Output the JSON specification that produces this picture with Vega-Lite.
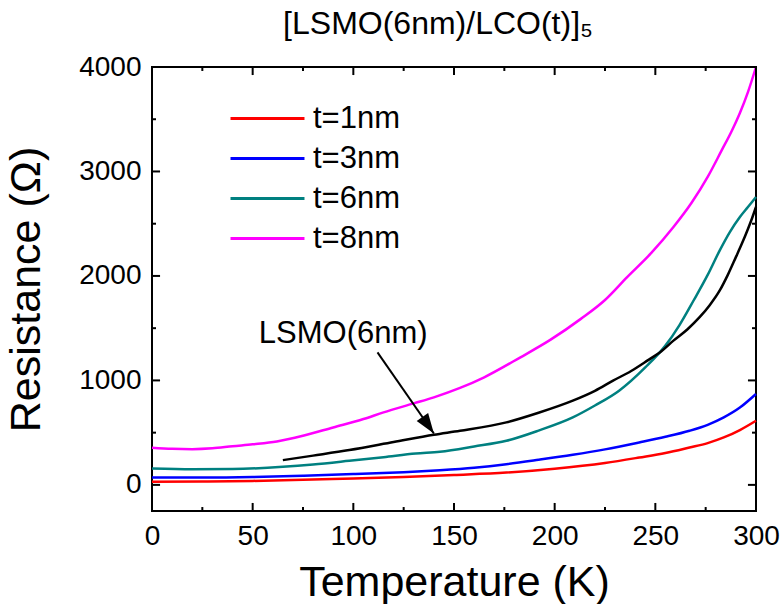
{
  "$schema": "https://vega.github.io/schema/vega-lite/v6.json",
  "width": 604,
  "height": 444,
  "autosize": {"type": "none"},
  "padding": {"left": 152, "top": 67, "right": 26, "bottom": 93},
  "background": "white",
  "config": {
    "font": "Liberation Sans",
    "view": {"stroke": "black", "strokeWidth": 2},
    "axis": {
      "grid": false,
      "domain": false,
      "labelFont": "Liberation Sans",
      "labelFontSize": 28,
      "labelColor": "black",
      "titleFont": "Liberation Sans",
      "titleFontSize": 43,
      "titleFontWeight": "normal",
      "titleColor": "black"
    }
  },
  "title": {
    "text": "[LSMO(6nm)/LCO(t)]₅",
    "font": "Liberation Sans",
    "fontSize": 32,
    "fontWeight": "normal",
    "color": "black",
    "offset": 12,
    "dx": -16
  },
  "datasets": {
    "curves": [
      {"series": "t=1nm", "T": 0, "R": 30}, {"series": "t=1nm", "T": 25, "R": 33}, {"series": "t=1nm", "T": 50, "R": 38}, {"series": "t=1nm", "T": 75, "R": 48}, {"series": "t=1nm", "T": 100, "R": 62}, {"series": "t=1nm", "T": 125, "R": 76}, {"series": "t=1nm", "T": 150, "R": 95}, {"series": "t=1nm", "T": 176, "R": 118}, {"series": "t=1nm", "T": 200, "R": 155}, {"series": "t=1nm", "T": 225, "R": 210}, {"series": "t=1nm", "T": 242, "R": 262}, {"series": "t=1nm", "T": 255, "R": 305}, {"series": "t=1nm", "T": 267, "R": 358}, {"series": "t=1nm", "T": 276, "R": 400}, {"series": "t=1nm", "T": 284, "R": 454}, {"series": "t=1nm", "T": 292, "R": 525}, {"series": "t=1nm", "T": 300, "R": 614},
      {"series": "t=3nm", "T": 0, "R": 70}, {"series": "t=3nm", "T": 25, "R": 70}, {"series": "t=3nm", "T": 50, "R": 75}, {"series": "t=3nm", "T": 75, "R": 88}, {"series": "t=3nm", "T": 100, "R": 103}, {"series": "t=3nm", "T": 125, "R": 122}, {"series": "t=3nm", "T": 143, "R": 141}, {"series": "t=3nm", "T": 160, "R": 165}, {"series": "t=3nm", "T": 176, "R": 198}, {"series": "t=3nm", "T": 192, "R": 240}, {"series": "t=3nm", "T": 209, "R": 288}, {"series": "t=3nm", "T": 225, "R": 340}, {"series": "t=3nm", "T": 242, "R": 406}, {"series": "t=3nm", "T": 255, "R": 460}, {"series": "t=3nm", "T": 267, "R": 518}, {"series": "t=3nm", "T": 276, "R": 575}, {"series": "t=3nm", "T": 284, "R": 646}, {"series": "t=3nm", "T": 292, "R": 740}, {"series": "t=3nm", "T": 300, "R": 870},
      {"series": "t=6nm", "T": 0, "R": 157}, {"series": "t=6nm", "T": 20, "R": 150}, {"series": "t=6nm", "T": 40, "R": 152}, {"series": "t=6nm", "T": 65, "R": 173}, {"series": "t=6nm", "T": 80, "R": 195}, {"series": "t=6nm", "T": 98, "R": 230}, {"series": "t=6nm", "T": 115, "R": 265}, {"series": "t=6nm", "T": 131, "R": 300}, {"series": "t=6nm", "T": 143, "R": 318}, {"series": "t=6nm", "T": 160, "R": 368}, {"series": "t=6nm", "T": 176, "R": 422}, {"series": "t=6nm", "T": 192, "R": 520}, {"series": "t=6nm", "T": 209, "R": 646}, {"series": "t=6nm", "T": 220, "R": 760}, {"series": "t=6nm", "T": 232, "R": 902}, {"series": "t=6nm", "T": 245, "R": 1125}, {"series": "t=6nm", "T": 255, "R": 1333}, {"series": "t=6nm", "T": 262, "R": 1530}, {"series": "t=6nm", "T": 269, "R": 1765}, {"series": "t=6nm", "T": 276, "R": 2010}, {"series": "t=6nm", "T": 282, "R": 2245}, {"series": "t=6nm", "T": 287, "R": 2420}, {"series": "t=6nm", "T": 292, "R": 2564}, {"series": "t=6nm", "T": 296, "R": 2660}, {"series": "t=6nm", "T": 300, "R": 2756},
      {"series": "t=8nm", "T": 0, "R": 355}, {"series": "t=8nm", "T": 10, "R": 345}, {"series": "t=8nm", "T": 20, "R": 342}, {"series": "t=8nm", "T": 30, "R": 350}, {"series": "t=8nm", "T": 40, "R": 370}, {"series": "t=8nm", "T": 50, "R": 388}, {"series": "t=8nm", "T": 62, "R": 415}, {"series": "t=8nm", "T": 75, "R": 470}, {"series": "t=8nm", "T": 90, "R": 550}, {"series": "t=8nm", "T": 105, "R": 630}, {"series": "t=8nm", "T": 115, "R": 694}, {"series": "t=8nm", "T": 130, "R": 780}, {"series": "t=8nm", "T": 140, "R": 838}, {"series": "t=8nm", "T": 153, "R": 928}, {"series": "t=8nm", "T": 165, "R": 1030}, {"series": "t=8nm", "T": 183, "R": 1221}, {"series": "t=8nm", "T": 198, "R": 1390}, {"series": "t=8nm", "T": 213, "R": 1589}, {"series": "t=8nm", "T": 225, "R": 1770}, {"series": "t=8nm", "T": 236, "R": 1989}, {"series": "t=8nm", "T": 248, "R": 2220}, {"series": "t=8nm", "T": 259, "R": 2468}, {"series": "t=8nm", "T": 268, "R": 2700}, {"series": "t=8nm", "T": 276, "R": 2948}, {"series": "t=8nm", "T": 283, "R": 3204}, {"series": "t=8nm", "T": 288, "R": 3390}, {"series": "t=8nm", "T": 292, "R": 3560}, {"series": "t=8nm", "T": 296, "R": 3760}, {"series": "t=8nm", "T": 300, "R": 4000},
      {"series": "LSMO(6nm)", "T": 65, "R": 237}, {"series": "LSMO(6nm)", "T": 80, "R": 280}, {"series": "LSMO(6nm)", "T": 98, "R": 333}, {"series": "LSMO(6nm)", "T": 120, "R": 410}, {"series": "LSMO(6nm)", "T": 140, "R": 480}, {"series": "LSMO(6nm)", "T": 153, "R": 518}, {"series": "LSMO(6nm)", "T": 176, "R": 598}, {"series": "LSMO(6nm)", "T": 192, "R": 690}, {"series": "LSMO(6nm)", "T": 209, "R": 806}, {"series": "LSMO(6nm)", "T": 220, "R": 900}, {"series": "LSMO(6nm)", "T": 229, "R": 998}, {"series": "LSMO(6nm)", "T": 238, "R": 1090}, {"series": "LSMO(6nm)", "T": 246, "R": 1189}, {"series": "LSMO(6nm)", "T": 253, "R": 1280}, {"series": "LSMO(6nm)", "T": 259, "R": 1381}, {"series": "LSMO(6nm)", "T": 266, "R": 1490}, {"series": "LSMO(6nm)", "T": 272, "R": 1605}, {"series": "LSMO(6nm)", "T": 277, "R": 1720}, {"series": "LSMO(6nm)", "T": 282, "R": 1861}, {"series": "LSMO(6nm)", "T": 286, "R": 2010}, {"series": "LSMO(6nm)", "T": 290, "R": 2180}, {"series": "LSMO(6nm)", "T": 293, "R": 2310}, {"series": "LSMO(6nm)", "T": 296, "R": 2450}, {"series": "LSMO(6nm)", "T": 298, "R": 2550}, {"series": "LSMO(6nm)", "T": 300, "R": 2660}
    ],
    "arrow": [
      {"T": 112, "R": 1269, "part": "tail"},
      {"T": 140, "R": 492, "part": "tip"}
    ],
    "label": [
      {"T": 95, "R": 1448, "text": "LSMO(6nm)"}
    ],
    "xticks": [
      {"T": 0, "kind": "major"}, {"T": 25, "kind": "minor"}, {"T": 50, "kind": "major"}, {"T": 75, "kind": "minor"}, {"T": 100, "kind": "major"}, {"T": 125, "kind": "minor"}, {"T": 150, "kind": "major"}, {"T": 175, "kind": "minor"}, {"T": 200, "kind": "major"}, {"T": 225, "kind": "minor"}, {"T": 250, "kind": "major"}, {"T": 275, "kind": "minor"}, {"T": 300, "kind": "major"}
    ],
    "yticks": [
      {"R": 0, "kind": "major"}, {"R": 500, "kind": "minor"}, {"R": 1000, "kind": "major"}, {"R": 1500, "kind": "minor"}, {"R": 2000, "kind": "major"}, {"R": 2500, "kind": "minor"}, {"R": 3000, "kind": "major"}, {"R": 3500, "kind": "minor"}, {"R": 4000, "kind": "major"}
    ]
  },
  "layer": [
    {
      "data": {"name": "curves"},
      "transform": [{"filter": "datum.series !== 'LSMO(6nm)'"}],
      "mark": {"type": "line", "strokeWidth": 2.5, "interpolate": "monotone"},
      "encoding": {
        "x": {
          "field": "T", "type": "quantitative",
          "scale": {"domain": [0, 300], "nice": false, "zero": false},
          "axis": {
            "orient": "bottom",
            "ticks": false,
            "tickSize": 0,
            "values": [0, 50, 100, 150, 200, 250, 300],
            "title": "Temperature (K)",
            "titlePadding": 11,
            "labelPadding": 11,
            "labelFlush": false
          }
        },
        "y": {
          "field": "R", "type": "quantitative",
          "scale": {"domain": [-250, 4000], "nice": false, "zero": false},
          "axis": {
            "orient": "left",
            "ticks": false,
            "tickSize": 0,
            "values": [0, 1000, 2000, 3000, 4000],
            "title": "Resistance (Ω)",
            "titlePadding": 30,
            "format": "d",
            "labelPadding": 11,
            "labelFlush": false
          }
        },
        "color": {
          "field": "series", "type": "nominal",
          "scale": {
            "domain": ["t=1nm", "t=3nm", "t=6nm", "t=8nm"],
            "range": ["#ff0000", "#0000ff", "#008080", "#ff00ff"]
          },
          "legend": {
            "title": null,
            "orient": "none",
            "legendX": 100,
            "legendY": 36,
            "symbolType": "M-4,0H4",
            "symbolSize": 342,
            "symbolStrokeWidth": 3,
            "labelFont": "Liberation Sans",
            "labelFontSize": 31,
            "labelColor": "black",
            "labelOffset": 30,
            "rowPadding": 8,
            "padding": 0
          }
        }
      }
    },
    {
      "data": {"name": "curves"},
      "transform": [{"filter": "datum.series === 'LSMO(6nm)'"}],
      "mark": {"type": "line", "strokeWidth": 2.5, "color": "black", "interpolate": "monotone"},
      "encoding": {
        "x": {"field": "T", "type": "quantitative", "axis": null},
        "y": {"field": "R", "type": "quantitative", "axis": null}
      }
    },
    {
      "data": {"name": "arrow"},
      "mark": {"type": "line", "strokeWidth": 2, "color": "black"},
      "encoding": {
        "x": {"field": "T", "type": "quantitative", "axis": null},
        "y": {"field": "R", "type": "quantitative", "axis": null}
      }
    },
    {
      "data": {"name": "arrow"},
      "transform": [{"filter": "datum.part === 'tip'"}],
      "mark": {"type": "point", "shape": "M0,0L-0.35,-1L0.35,-1Z", "filled": true, "color": "black", "opacity": 1, "size": 1600, "angle": -35},
      "encoding": {
        "x": {"field": "T", "type": "quantitative", "axis": null},
        "y": {"field": "R", "type": "quantitative", "axis": null}
      }
    },
    {
      "data": {"name": "label"},
      "mark": {"type": "text", "font": "Liberation Sans", "fontSize": 31, "color": "black", "baseline": "middle", "align": "center"},
      "encoding": {
        "x": {"field": "T", "type": "quantitative", "axis": null},
        "y": {"field": "R", "type": "quantitative", "axis": null},
        "text": {"field": "text"}
      }
    },
    {
      "data": {"name": "xticks"},
      "transform": [{"filter": "datum.kind === 'major'"}],
      "mark": {"type": "rule", "color": "black", "strokeWidth": 2},
      "encoding": {
        "x": {"field": "T", "type": "quantitative", "axis": null},
        "y": {"datum": -250, "type": "quantitative", "axis": null},
        "y2": {"datum": -173}
      }
    },
    {
      "data": {"name": "xticks"},
      "transform": [{"filter": "datum.kind === 'minor'"}],
      "mark": {"type": "rule", "color": "black", "strokeWidth": 2},
      "encoding": {
        "x": {"field": "T", "type": "quantitative", "axis": null},
        "y": {"datum": -250, "type": "quantitative", "axis": null},
        "y2": {"datum": -212}
      }
    },
    {
      "data": {"name": "xticks"},
      "transform": [{"filter": "datum.kind === 'major'"}],
      "mark": {"type": "rule", "color": "black", "strokeWidth": 2},
      "encoding": {
        "x": {"field": "T", "type": "quantitative", "axis": null},
        "y": {"datum": 4000, "type": "quantitative", "axis": null},
        "y2": {"datum": 3923}
      }
    },
    {
      "data": {"name": "xticks"},
      "transform": [{"filter": "datum.kind === 'minor'"}],
      "mark": {"type": "rule", "color": "black", "strokeWidth": 2},
      "encoding": {
        "x": {"field": "T", "type": "quantitative", "axis": null},
        "y": {"datum": 4000, "type": "quantitative", "axis": null},
        "y2": {"datum": 3962}
      }
    },
    {
      "data": {"name": "yticks"},
      "transform": [{"filter": "datum.kind === 'major'"}],
      "mark": {"type": "rule", "color": "black", "strokeWidth": 2},
      "encoding": {
        "y": {"field": "R", "type": "quantitative", "axis": null},
        "x": {"datum": 0, "type": "quantitative", "axis": null},
        "x2": {"datum": 4}
      }
    },
    {
      "data": {"name": "yticks"},
      "transform": [{"filter": "datum.kind === 'minor'"}],
      "mark": {"type": "rule", "color": "black", "strokeWidth": 2},
      "encoding": {
        "y": {"field": "R", "type": "quantitative", "axis": null},
        "x": {"datum": 0, "type": "quantitative", "axis": null},
        "x2": {"datum": 2}
      }
    },
    {
      "data": {"name": "yticks"},
      "transform": [{"filter": "datum.kind === 'major'"}],
      "mark": {"type": "rule", "color": "black", "strokeWidth": 2},
      "encoding": {
        "y": {"field": "R", "type": "quantitative", "axis": null},
        "x": {"datum": 300, "type": "quantitative", "axis": null},
        "x2": {"datum": 296}
      }
    },
    {
      "data": {"name": "yticks"},
      "transform": [{"filter": "datum.kind === 'minor'"}],
      "mark": {"type": "rule", "color": "black", "strokeWidth": 2},
      "encoding": {
        "y": {"field": "R", "type": "quantitative", "axis": null},
        "x": {"datum": 300, "type": "quantitative", "axis": null},
        "x2": {"datum": 298}
      }
    }
  ],
  "resolve": {"axis": {"x": "independent", "y": "independent"}}
}
